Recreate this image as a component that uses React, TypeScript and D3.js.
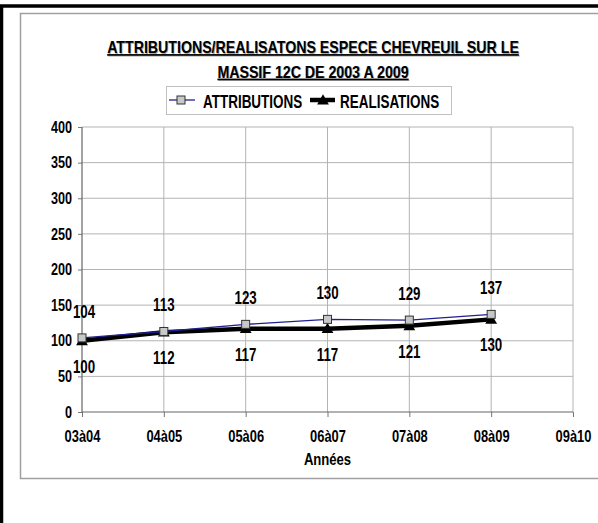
import { useEffect, useRef } from 'react';
import * as d3 from 'd3';

const categories = ['03à04', '04à05', '05à06', '06à07', '07à08', '08à09', '09à10'];
const attributions = [104, 113, 123, 130, 129, 137];
const realisations = [100, 112, 117, 117, 121, 130];
const yTicks = [0, 50, 100, 150, 200, 250, 300, 350, 400];
const titleLines = ['ATTRIBUTIONS/REALISATONS ESPECE CHEVREUIL SUR LE', 'MASSIF 12C DE 2003 A 2009'];

const FONT = '"Liberation Sans", Arial, sans-serif';

export default function App() {
  const svgRef = useRef<SVGSVGElement>(null);

  useEffect(() => {
    if (!svgRef.current) return;
    const svg = d3.select(svgRef.current);
    svg.selectAll('*').remove();

    const W = 598, H = 523;
    const plot = { left: 82, right: 573, top: 127, bottom: 412 };

    // condensed bold text (the original uses Arial Narrow)
    const txt = (parent: any, x: number, y: number, s: string | number, size: number, sx: number, anchor = 'middle') =>
      parent.append('text')
        .attr('transform', `translate(${x},${y}) scale(${sx},1)`)
        .attr('text-anchor', anchor)
        .attr('font-family', FONT).attr('font-size', size).attr('font-weight', 'bold')
        .attr('fill', 'black')
        .text(s);

    svg.append('rect').attr('width', W).attr('height', H).attr('fill', 'white');

    // outer black frame + inner grey frame
    svg.append('path')
      .attr('d', `M1.5,${H} V6 H${W}`)
      .attr('fill', 'none').attr('stroke', 'black').attr('stroke-width', 3.5);
    svg.append('path')
      .attr('d', `M${W},13.5 H20.5 V478.5 H${W}`)
      .attr('fill', 'none').attr('stroke', '#a0a0a0').attr('stroke-width', 1.5);

    const x = d3.scalePoint<string>().domain(categories).range([plot.left, plot.right]);
    const y = d3.scaleLinear().domain([0, 400]).range([plot.bottom, plot.top]);

    // grid
    const g = svg.append('g');
    g.selectAll('line.hg').data(yTicks.filter(d => d > 0)).join('line')
      .attr('x1', plot.left).attr('x2', plot.right)
      .attr('y1', d => y(d)).attr('y2', d => y(d))
      .attr('stroke', '#b4b4b4').attr('stroke-width', 1);
    g.selectAll('line.vg').data(categories.slice(1)).join('line')
      .attr('x1', d => x(d)!).attr('x2', d => x(d)!)
      .attr('y1', plot.top).attr('y2', plot.bottom)
      .attr('stroke', '#b4b4b4').attr('stroke-width', 1);

    // axes
    const yAxis = svg.append('g')
      .attr('transform', `translate(${plot.left},0)`)
      .call(d3.axisLeft(y).tickValues(yTicks).tickSize(4).tickPadding(6));
    const xAxis = svg.append('g')
      .attr('transform', `translate(0,${plot.bottom})`)
      .call(d3.axisBottom(x).tickSize(5).tickPadding(13));
    [yAxis, xAxis].forEach(a => {
      a.select('.domain').remove();
      a.selectAll('line').attr('stroke', '#777');
      a.selectAll('text')
        .attr('font-family', FONT).attr('font-weight', 'bold').attr('fill', 'black');
    });
    yAxis.selectAll('text').attr('font-size', 16).attr('transform', 'scale(0.79,1)').attr('x', -10 / 0.79);
    xAxis.selectAll('text').attr('font-size', 17).attr('transform', 'scale(0.76,1)');
    svg.append('line').attr('x1', plot.left).attr('x2', plot.left)
      .attr('y1', plot.top).attr('y2', plot.bottom).attr('stroke', '#666').attr('stroke-width', 1.2);
    svg.append('line').attr('x1', plot.left).attr('x2', plot.right)
      .attr('y1', plot.bottom).attr('y2', plot.bottom).attr('stroke', '#666').attr('stroke-width', 1.2);

    // series
    const line = d3.line<number>().x((_, i) => x(categories[i])!).y(d => y(d));
    svg.append('path').datum(realisations).attr('d', line)
      .attr('fill', 'none').attr('stroke', 'black').attr('stroke-width', 4.5);
    svg.append('path').datum(attributions).attr('d', line)
      .attr('fill', 'none').attr('stroke', '#1f1f90').attr('stroke-width', 1.3);

    const tri = d3.symbol(d3.symbolTriangle, 60);
    svg.selectAll('path.tri').data(realisations).join('path')
      .attr('d', tri)
      .attr('transform', (d, i) => `translate(${x(categories[i])},${y(d) + 1})`)
      .attr('fill', 'black');
    svg.selectAll('rect.sq').data(attributions).join('rect')
      .attr('x', (_, i) => x(categories[i])! - 4).attr('y', d => y(d) - 4)
      .attr('width', 8).attr('height', 8)
      .attr('fill', '#c8c8c8').attr('stroke', '#333').attr('stroke-width', 1);

    // data labels
    const labels = svg.append('g');
    attributions.forEach((d, i) => txt(labels, x(categories[i])! + (i === 0 ? 2 : 0), y(d) - 20, d, 18, 0.74));
    realisations.forEach((d, i) => txt(labels, x(categories[i])! + (i === 0 ? 2 : 0), y(d) + 32, d, 18, 0.74));

    // axis title
    txt(svg, (plot.left + plot.right) / 2, 465, 'Années', 17, 0.77);

    // title with a faint grey shadow
    titleLines.forEach((s, i) =>
      txt(svg, 313.8, 53.8 + i * 24.5, s, 16.5, 0.86).attr('fill', '#aaa').attr('text-decoration', 'underline'));
    titleLines.forEach((s, i) =>
      txt(svg, 313, 53 + i * 24.5, s, 16.5, 0.86).attr('text-decoration', 'underline'));

    // legend
    const lg = svg.append('g');
    lg.append('rect').attr('x', 166.5).attr('y', 86.5).attr('width', 285).attr('height', 28)
      .attr('fill', 'white').attr('stroke', '#c0c0c0');
    lg.append('line').attr('x1', 169).attr('x2', 195).attr('y1', 100).attr('y2', 100)
      .attr('stroke', '#1f1f90').attr('stroke-width', 1.3);
    lg.append('rect').attr('x', 177).attr('y', 96).attr('width', 8).attr('height', 8)
      .attr('fill', '#c8c8c8').attr('stroke', '#333');
    lg.append('line').attr('x1', 310).attr('x2', 335).attr('y1', 100).attr('y2', 100)
      .attr('stroke', 'black').attr('stroke-width', 4.5);
    lg.append('path').attr('d', tri).attr('transform', 'translate(323,101)').attr('fill', 'black');
    ['ATTRIBUTIONS', 'REALISATIONS'].forEach((s, i) =>
      txt(lg, i === 0 ? 203 : 340, 107.5, s, 17.5, 0.77, 'start'));
  }, []);

  return (
    <svg ref={svgRef} width={598} height={523}
      style={{ position: 'absolute', left: 0, top: 0, display: 'block' }} />
  );
}
